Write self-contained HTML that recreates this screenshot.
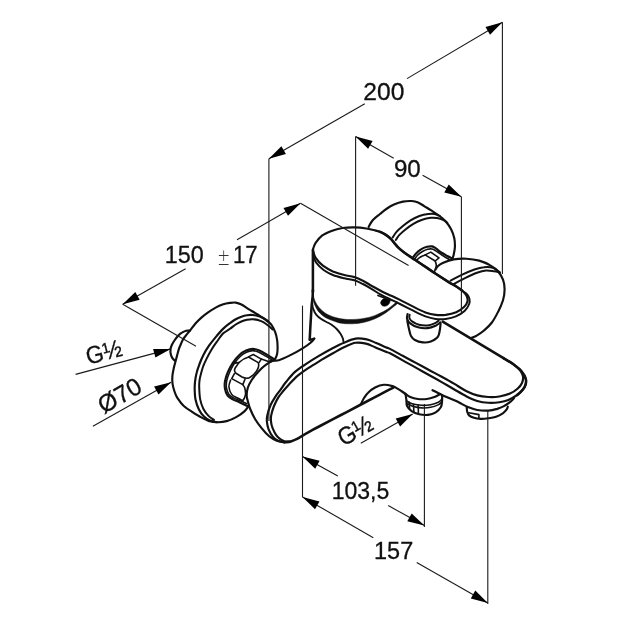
<!DOCTYPE html>
<html lang="en"><head><meta charset="utf-8"><title>Bath mixer dimensions</title>
<style>
html,body{margin:0;padding:0;background:#fff;}
body{width:630px;height:630px;overflow:hidden;}
svg{display:block;}
</style></head><body>
<svg width="630" height="630" viewBox="0 0 630 630" role="img" aria-label="Bath mixer dimensional drawing">
<rect width="630" height="630" fill="#fff"/>
<g fill="none" stroke="#111" stroke-linecap="round" stroke-linejoin="round">
<path d="M268.1 321.2 C267.2 320.6 264.3 318.6 262.4 317.4 C260.5 316.2 258.9 315.4 256.7 314.0 C254.5 312.6 251.6 310.9 249.0 309.3 C246.4 307.7 243.6 305.6 241.4 304.5 C239.2 303.4 237.6 302.9 235.7 302.6 C233.8 302.3 232.1 302.6 230.0 302.9 C227.9 303.2 225.7 303.5 223.3 304.3 C220.9 305.1 218.2 306.2 215.7 307.6 C213.2 309.0 210.5 310.7 208.1 312.4 C205.7 314.1 203.5 315.8 201.4 317.6 C199.3 319.4 197.6 321.2 195.7 323.3 C193.8 325.4 191.6 328.5 190.0 330.5 C188.4 332.5 187.3 333.8 186.2 335.2 C185.1 336.6 184.2 337.6 183.3 339.0 C182.4 340.4 181.7 342.2 181.0 343.8 C180.3 345.4 179.6 346.9 179.0 348.6 C178.4 350.4 177.9 352.4 177.4 354.3 C176.9 356.2 176.5 357.7 175.9 360.0 C175.3 362.3 174.4 365.3 173.8 368.0 C173.2 370.7 172.6 373.3 172.4 376.0 C172.2 378.7 172.2 381.4 172.6 384.0 C172.9 386.6 173.7 389.1 174.5 391.5 C175.3 393.9 175.9 395.7 177.5 398.1 C179.1 400.5 181.4 403.8 183.8 406.0 C186.2 408.2 189.0 409.9 191.7 411.6 C194.3 413.4 196.8 414.9 199.7 416.5 C202.6 418.1 206.3 420.2 209.2 421.1 C212.1 422.1 215.8 422.0 217.1 422.2" stroke-width="2.15"/>
<path d="M268.1 321.7 C267.3 321.1 264.9 319.2 263.3 318.3 C261.7 317.4 260.3 316.7 258.6 316.1 C256.9 315.6 254.8 315.1 252.9 315.0 C251.0 314.9 249.0 314.9 247.1 315.2 C245.2 315.5 243.3 316.0 241.4 316.7 C239.5 317.4 237.6 318.2 235.7 319.3 C233.8 320.4 232.1 321.6 230.0 323.1 C227.9 324.7 225.7 326.3 223.3 328.6 C220.9 330.9 218.1 334.2 215.7 337.1 C213.3 340.0 211.1 342.7 209.0 345.7 C206.9 348.7 204.9 352.1 203.3 355.2 C201.7 358.2 200.6 361.1 199.5 364.0 C198.4 366.9 197.4 369.5 196.7 372.5 C195.9 375.5 195.3 379.1 195.0 382.0 C194.7 384.9 194.6 387.1 194.7 390.0 C194.8 392.9 194.8 396.2 195.5 399.4 C196.2 402.6 197.4 406.3 198.8 409.2 C200.2 412.1 202.1 414.7 204.0 416.6 C205.9 418.5 207.8 419.7 210.0 420.6 C212.2 421.5 214.3 422.1 217.1 422.2 C219.9 422.3 223.5 422.0 226.7 421.1 C229.9 420.2 233.3 418.7 236.2 417.1 C239.1 415.5 242.1 413.4 244.1 411.6 C246.1 409.8 247.6 407.4 248.3 406.5" stroke-width="2.15"/>
<path d="M268.1 321.5 C268.7 322.2 270.7 323.7 271.9 325.5 C273.1 327.3 274.3 329.7 275.2 332.1 C276.1 334.5 276.7 337.2 277.1 339.8 C277.5 342.4 277.6 345.0 277.6 347.4 C277.6 349.8 277.5 352.0 277.1 354.0 C276.7 356.0 275.4 358.5 275.0 359.4" stroke-width="2.15"/>
<path d="M272.6 329.5 C271.9 328.8 269.7 326.7 268.1 325.5 C266.6 324.3 264.9 323.0 263.3 322.1 C261.7 321.2 260.3 320.7 258.6 320.2 C256.9 319.7 254.8 319.4 252.9 319.3 C251.0 319.2 249.0 319.4 247.1 319.8 C245.2 320.2 243.3 320.7 241.4 321.5 C239.5 322.3 237.6 323.3 235.7 324.5 C233.8 325.7 232.1 327.3 230.0 328.8 C227.9 330.3 225.5 331.1 223.3 333.3 C221.1 335.5 218.8 339.0 216.7 341.9 C214.6 344.8 212.7 347.6 211.0 350.5 C209.3 353.4 207.7 356.5 206.4 359.1 C205.1 361.7 204.2 363.8 203.3 366.0 C202.5 368.2 201.9 370.2 201.3 372.5 C200.7 374.8 199.9 377.6 199.6 380.0 C199.2 382.4 199.1 383.8 199.2 387.0 C199.3 390.2 199.5 395.8 200.2 399.4 C200.9 403.0 201.9 405.9 203.3 408.7 C204.7 411.4 206.7 414.0 208.5 415.9 C210.3 417.8 213.1 419.3 214.0 420.0" stroke-width="2.0"/>
<path d="M190.0 330.7 C189.4 330.7 187.5 330.4 186.2 330.7 C184.9 331.0 183.7 331.6 182.4 332.4 C181.1 333.1 179.9 333.9 178.6 335.2 C177.3 336.5 175.9 338.4 174.8 340.0 C173.7 341.6 172.6 343.2 171.9 344.8 C171.2 346.4 170.7 347.9 170.5 349.5 C170.3 351.1 170.5 352.9 170.8 354.3 C171.1 355.7 171.8 357.1 172.4 358.1 C173.0 359.2 174.2 360.2 174.6 360.6" stroke-width="2.15"/>
<path d="M274.4 359.4 C273.2 358.7 269.7 356.5 267.2 355.0 C264.7 353.5 261.8 351.6 259.4 350.6 C257.0 349.6 255.0 348.9 252.8 348.9 C250.6 348.9 248.3 349.6 246.1 350.6 C243.9 351.6 241.6 353.0 239.4 355.0 C237.2 357.0 234.7 359.9 232.8 362.8 C230.9 365.7 229.1 369.1 227.8 372.2 C226.5 375.2 225.5 378.3 225.0 381.1 C224.5 383.9 224.6 386.5 225.0 388.9 C225.4 391.3 226.3 393.9 227.6 395.6 C228.9 397.4 230.8 398.3 232.8 399.4 C234.8 400.5 236.9 401.0 239.4 402.2 C241.9 403.4 246.4 405.6 247.8 406.3" stroke-width="2.15"/>
<path d="M272.4 360.2 C271.4 359.6 268.4 357.7 266.2 356.4 C263.9 355.1 261.1 353.2 258.9 352.2 C256.6 351.2 254.8 350.6 252.7 350.6 C250.6 350.6 248.5 351.3 246.4 352.3 C244.3 353.3 242.2 354.6 240.2 356.5 C238.1 358.4 235.9 361.1 234.1 363.8 C232.3 366.5 230.7 369.7 229.5 372.5 C228.3 375.3 227.2 378.2 226.7 380.8 C226.2 383.4 226.1 385.9 226.5 388.2 C226.9 390.5 227.7 392.9 228.9 394.5 C230.1 396.1 232.0 397.1 233.9 398.1 C235.8 399.1 237.9 399.8 240.1 400.7 C242.2 401.6 245.7 403.2 246.8 403.7" stroke-width="1.6"/>
<path d="M272.8 360.6 C271.9 361.2 269.1 362.6 267.2 363.9 C265.3 365.2 263.5 366.6 261.7 368.3 C259.9 370.1 257.8 372.4 256.1 374.4 C254.4 376.3 253.1 377.8 251.7 380.0 C250.3 382.2 248.6 385.2 247.8 387.8 C247.0 390.4 246.7 393.5 246.7 395.6 C246.7 397.7 247.0 398.0 247.6 400.2 C248.2 402.4 248.9 405.8 250.2 409.0 C251.5 412.2 253.3 416.0 255.2 419.2 C257.1 422.4 259.3 425.2 261.6 428.1 C263.9 431.0 266.7 434.2 269.2 436.3 C271.7 438.4 274.3 439.8 276.8 440.8 C279.3 441.8 283.1 442.1 284.4 442.3" stroke-width="2.15"/>
<path d="M248.9 356.6 L253.3 354.5 L261.3 359.1 L259.2 362.4" stroke-width="1.6"/>
<path d="M261.3 359.1 L270.6 362.2" stroke-width="1.6"/>
<path d="M238.9 362.6 Q243 358.5 248.6 357 L258.2 362.6 Q259.6 366 257.2 370 Q254 375.5 249.4 377.8 Q246 379 242 377 L236 373.3 Q233.5 371 235.2 368 Z" stroke-width="1.6"/>
<path d="M234.4 373.6 L231.7 378.6 L242.8 384.6 L245.0 379.2" stroke-width="1.6"/>
<path d="M230.6 380.0 C230.3 381.1 228.7 384.3 228.9 386.7 C229.1 389.1 230.3 392.5 231.7 394.4 C233.0 396.2 235.2 396.8 237.0 397.8 C238.8 398.8 241.8 400.1 242.8 400.6" stroke-width="1.6"/>
<path d="M242.8 384.6 C243.1 385.1 244.1 386.1 244.6 387.5 C245.1 388.9 245.6 391.6 245.6 393.3 C245.6 395.0 245.1 396.4 244.6 397.6 C244.1 398.8 243.1 400.1 242.8 400.6" stroke-width="1.6"/>
<path d="M232.8 363.4 L238.9 362.6" stroke-width="1.6"/>
<path d="M270.1 361.0 C271.6 360.9 275.5 361.1 278.8 360.2 C282.1 359.3 285.9 357.4 289.9 355.4 C293.9 353.4 299.2 350.4 302.6 348.3 C306.1 346.2 308.7 344.3 310.6 342.7 C312.6 341.1 313.7 339.3 314.3 338.6" stroke-width="2.15"/>
<path d="M314.3 338.6 L309.8 339.8" stroke-width="2.15"/>
<path d="M312.9 290.0 C312.8 291.2 312.8 294.5 312.6 297.0 C312.4 299.5 312.0 301.5 311.7 305.0 C311.4 308.5 311.1 313.8 310.9 318.0 C310.6 322.2 310.4 326.4 310.2 330.0 C310.0 333.6 309.8 338.2 309.7 339.8" stroke-width="2.55"/>
<path d="M284.4 442.3 C283.3 442.1 280.0 441.7 278.1 440.8 C276.2 439.9 274.6 438.9 273.0 437.0 C271.4 435.1 269.6 431.9 268.6 429.4 C267.6 426.8 267.1 424.0 266.9 421.7 C266.7 419.4 266.7 418.1 267.3 415.4 C267.9 412.6 269.1 408.4 270.5 405.2 C271.9 402.0 273.9 398.9 275.6 396.3 C277.3 393.7 278.9 392.0 280.6 389.6 C282.3 387.2 283.6 384.9 286.0 382.0 C288.4 379.1 291.4 375.1 294.7 372.1 C298.0 369.1 301.8 366.8 305.8 364.1 C309.8 361.5 314.3 358.7 318.5 356.2 C322.7 353.7 327.0 351.2 331.2 349.0 C335.4 346.8 339.8 344.4 343.9 342.7 C348.0 341.0 351.8 339.2 355.6 338.6 C359.4 338.1 363.3 338.7 366.7 339.4 C370.1 340.1 373.0 341.7 376.2 343.0 C379.4 344.3 383.4 346.3 385.7 347.3 C388.0 348.3 387.2 347.5 390.0 348.9 C392.8 350.3 398.5 353.5 402.7 355.8 C406.9 358.1 411.2 360.3 415.4 362.6 C419.6 364.9 423.9 367.2 428.1 369.5 C432.3 371.8 436.6 374.0 440.8 376.3 C445.0 378.6 449.3 380.9 453.5 383.4 C457.7 385.8 462.2 389.0 466.1 391.0 C470.1 393.0 473.5 394.4 477.2 395.4 C480.9 396.4 484.6 396.8 488.3 397.0 C492.0 397.2 495.8 397.1 499.4 396.5 C503.0 395.9 507.0 394.9 510.0 393.6 C513.0 392.3 515.5 390.6 517.5 388.8 C519.5 387.0 521.1 385.1 522.0 383.0 C522.9 380.9 523.3 378.8 523.0 376.5 C522.7 374.2 520.5 370.7 520.0 369.5" stroke-width="2.15"/>
<path d="M290.0 441.6 C289.1 441.5 286.0 441.6 284.4 441.2 C282.8 440.8 282.0 440.3 280.6 439.3 C279.2 438.3 277.5 437.0 276.2 435.1 C274.9 433.2 273.5 430.3 272.6 428.1 C271.7 425.9 271.2 423.8 271.0 421.7 C270.8 419.6 270.7 417.9 271.2 415.4 C271.7 412.9 272.6 409.5 273.8 406.5 C275.0 403.5 276.6 400.2 278.2 397.6 C279.8 395.0 281.4 393.2 283.2 391.0 C285.0 388.8 286.6 387.0 289.0 384.4 C291.4 381.8 294.5 378.4 297.8 375.6 C301.1 372.9 304.7 370.5 308.6 367.9 C312.5 365.3 316.9 362.7 321.0 360.2 C325.1 357.7 329.4 355.2 333.4 353.0 C337.4 350.8 341.3 348.5 345.0 346.8 C348.7 345.1 352.1 343.3 355.6 342.8 C359.1 342.3 362.8 342.9 366.0 343.6 C369.2 344.3 371.8 345.9 375.0 347.2 C378.2 348.5 382.7 350.6 385.2 351.6 C387.7 352.6 387.1 351.8 390.0 353.3 C392.9 354.8 398.5 358.0 402.7 360.4 C406.9 362.8 411.2 365.0 415.4 367.4 C419.6 369.8 423.9 372.1 428.1 374.5 C432.3 376.9 436.6 379.2 440.8 381.6 C445.0 384.0 449.3 386.6 453.5 389.0 C457.7 391.4 462.2 394.2 466.2 396.2 C470.1 398.2 473.5 399.9 477.2 401.0 C480.9 402.1 484.6 402.6 488.3 402.8 C492.0 403.0 496.1 402.7 499.4 402.2 C502.7 401.7 505.3 401.2 508.3 400.0 C511.3 398.8 514.8 396.7 517.2 395.0 C519.6 393.3 521.1 391.7 522.5 390.0 C523.9 388.3 525.1 386.5 525.6 384.6 C526.1 382.7 526.4 380.9 525.7 378.7 C525.1 376.5 523.6 373.9 521.7 371.6 C519.9 369.4 517.6 367.4 514.6 365.2 C511.6 362.9 505.4 359.3 503.5 358.1" stroke-width="2.15"/>
<path d="M442.7 321.7 L503.5 358.1" stroke-width="2.55"/>
<path d="M503.5 358.1 C505.4 359.3 511.6 362.9 514.6 365.2 C517.6 367.4 519.9 369.4 521.7 371.6 C523.6 373.9 525.1 376.5 525.7 378.7 C526.4 380.9 526.1 382.7 525.6 384.6 C525.1 386.5 523.9 388.3 522.5 390.0 C521.1 391.7 518.1 394.2 517.2 395.0" stroke-width="2.55"/>
<path d="M284.4 442.3 C285.5 442.1 288.7 442.0 290.8 441.4 C292.9 440.8 295.2 439.8 297.1 438.9 C299.0 438.0 300.1 437.1 302.2 435.8 C304.3 434.5 307.0 432.9 310.0 431.3 C313.0 429.7 315.0 428.6 320.0 426.0 C325.0 423.4 333.3 419.0 340.0 415.5 C346.7 412.0 354.2 408.1 360.0 405.0 C365.8 401.9 371.0 399.2 375.0 397.1 C379.0 395.0 381.4 393.8 384.0 392.4 C386.6 391.0 389.2 389.6 390.8 388.8 C392.4 388.0 393.1 387.6 393.6 387.3" stroke-width="2.55"/>
<path d="M361.1 403.8 C361.6 402.8 362.8 399.9 364.0 398.0 C365.2 396.1 366.2 394.4 368.1 392.7 C370.0 390.9 372.5 388.8 375.1 387.5 C377.7 386.2 380.9 385.0 383.8 384.8 C386.7 384.6 390.2 385.5 392.5 386.1 C394.8 386.7 396.0 387.8 397.5 388.6 C399.0 389.4 400.0 390.1 401.3 391.0 C402.6 391.9 404.6 393.3 405.2 393.8" stroke-width="2.15"/>
<path d="M432.5 390.2 C434.4 391.2 440.2 394.3 444.0 396.0 C447.8 397.7 452.1 399.3 455.0 400.6 C457.9 401.9 459.7 402.9 461.7 403.9 C463.7 404.9 464.6 405.7 467.2 406.7 C469.8 407.7 473.7 409.4 477.2 410.0 C480.7 410.6 485.0 410.8 488.3 410.6 C491.6 410.4 494.6 409.6 497.2 408.9 C499.8 408.1 501.7 407.3 503.9 406.1 C506.1 404.9 508.9 403.0 510.6 401.7 C512.3 400.4 513.4 398.9 513.9 398.3" stroke-width="2.15"/>
<path d="M405.6 394.5 C405.7 395.4 406.1 398.1 406.4 400.0 C406.6 401.9 406.2 404.1 407.1 406.0 C408.0 407.9 409.6 409.7 411.6 411.1 C413.6 412.5 416.4 413.7 419.2 414.3 C421.9 414.9 425.4 415.2 428.1 414.9 C430.9 414.6 433.6 413.7 435.7 412.4 C437.8 411.1 439.7 409.2 440.8 407.3 C441.9 405.4 441.9 403.0 442.1 401.0 C442.3 399.0 442.1 396.4 442.1 395.5" stroke-width="2.15"/>
<path d="M405.4 393.6 C406.2 394.2 408.2 396.2 410.3 397.1 C412.4 398.0 415.1 398.7 417.9 399.0 C420.6 399.3 424.1 399.3 426.8 399.0 C429.6 398.7 432.2 397.9 434.4 397.1 C436.6 396.3 439.2 394.5 440.2 394.0" stroke-width="2.15"/>
<path d="M406.6 400.9 C407.7 401.4 410.4 403.4 412.9 404.1 C415.4 404.8 418.8 405.2 421.7 405.3 C424.6 405.4 427.8 405.2 430.6 404.7 C433.4 404.2 436.4 403.1 438.3 402.2 C440.2 401.2 441.3 399.5 441.9 399.0" stroke-width="1.6"/>
<path d="M407.0 403.4 C408.1 403.9 411.1 405.9 413.5 406.6 C415.9 407.4 418.8 407.8 421.7 407.9 C424.6 408.0 427.8 407.9 430.6 407.3 C433.4 406.8 436.7 405.5 438.6 404.6 C440.5 403.7 441.3 402.3 441.9 401.8" stroke-width="1.6"/>
<path d="M409.1 402.4 L409.7 409.4" stroke-width="1.6"/>
<path d="M413.5 404.4 L413.9 412.4" stroke-width="1.6"/>
<path d="M418.2 405.2 L418.4 413.9" stroke-width="1.6"/>
<path d="M466.7 407.2 C466.8 407.9 466.8 410.3 467.2 411.7 C467.6 413.1 468.3 414.6 469.4 415.6 C470.5 416.6 472.0 417.2 473.9 417.8 C475.8 418.4 478.2 418.8 480.6 418.9 C483.0 419.0 485.7 418.7 488.3 418.3 C490.9 417.9 493.7 417.5 496.1 416.7 C498.5 415.9 501.0 414.5 502.8 413.3 C504.6 412.1 505.9 410.5 506.7 409.4 C507.5 408.3 507.6 407.1 507.8 406.7" stroke-width="2.15"/>
<path d="M468.9 412.8 L478.9 414.6 L478.9 418.2" stroke-width="1.6"/>
<path d="M312.9 250.0 C313.0 249.7 312.9 249.5 313.3 248.3 C313.8 247.1 314.2 244.9 315.6 242.8 C317.1 240.7 319.4 237.6 322.0 235.6 C324.6 233.6 328.1 232.2 331.5 230.9 C334.9 229.6 338.6 228.6 342.6 228.0 C346.6 227.4 351.3 227.3 355.3 227.4 C359.3 227.5 363.1 228.0 366.4 228.5 C369.7 229.0 372.7 229.8 375.0 230.4 C377.3 231.0 378.3 231.1 380.0 231.8 C381.7 232.5 383.4 233.3 385.1 234.4 C386.8 235.5 388.7 236.8 390.2 238.2 C391.7 239.6 392.7 241.1 394.0 242.6 C395.3 244.1 396.3 245.6 397.8 247.1 C399.3 248.6 401.0 250.0 402.9 251.5 C404.8 253.0 406.9 254.4 409.2 256.0 C411.5 257.6 414.3 259.3 416.8 261.0 C419.3 262.7 421.2 264.0 424.4 266.1 C427.6 268.2 431.8 271.2 435.8 273.8 C439.8 276.4 445.0 279.7 448.3 281.8 C451.6 283.9 453.6 284.7 455.9 286.2 C458.2 287.7 460.4 289.1 462.2 290.6 C463.9 292.1 465.5 293.6 466.4 295.4 C467.3 297.2 467.9 299.3 467.5 301.2 C467.1 303.1 465.9 305.2 464.0 307.0 C462.1 308.8 459.2 310.9 456.2 312.2 C453.1 313.5 449.1 314.4 445.7 314.9 C442.3 315.3 439.0 315.3 435.6 314.9 C432.2 314.5 429.2 313.8 425.4 312.4 C421.6 311.0 416.9 308.5 412.7 306.4 C408.5 304.3 403.6 301.7 400.0 299.9 C396.4 298.1 394.5 297.2 391.4 295.8 C388.3 294.4 384.7 292.9 381.4 291.2 C378.1 289.5 374.5 287.4 371.4 285.7 C368.3 283.9 365.8 282.1 362.9 280.7 C360.0 279.3 357.4 278.1 354.3 277.1 C351.2 276.2 347.9 275.9 344.3 275.0 C340.7 274.1 336.5 272.9 332.9 271.4 C329.3 269.8 325.8 267.9 322.9 265.7 C320.0 263.4 317.4 260.5 315.7 257.9 C314.0 255.3 313.4 251.3 312.9 250.0" stroke-width="2.15"/>
<path d="M312.9 255.7 C313.5 256.9 314.6 260.5 316.4 262.9 C318.2 265.3 320.9 268.0 323.6 270.0 C326.4 272.0 329.4 273.6 332.9 275.0 C336.3 276.4 340.7 277.4 344.3 278.3 C347.9 279.2 351.2 279.4 354.3 280.3 C357.4 281.2 360.0 282.6 362.9 284.0 C365.8 285.4 368.3 287.1 371.4 288.9 C374.5 290.7 378.1 293.2 381.4 295.0 C384.7 296.8 388.3 298.3 391.4 299.8 C394.5 301.3 396.4 302.2 400.0 304.0 C403.6 305.8 408.5 308.3 412.7 310.4 C416.9 312.5 421.6 315.0 425.4 316.4 C429.2 317.8 432.2 318.5 435.6 318.9 C439.0 319.3 442.3 319.3 445.7 318.9 C449.1 318.5 452.7 317.8 455.9 316.4 C459.1 315.0 462.6 312.9 464.8 310.8 C467.0 308.7 468.4 306.0 469.2 304.0 C470.0 302.0 469.7 300.1 469.4 298.6 C469.1 297.1 468.2 295.9 467.4 294.8 C466.6 293.7 464.9 292.6 464.4 292.2" stroke-width="2.0"/>
<path d="M380.0 231.8 C380.9 232.2 383.4 233.3 385.1 234.4 C386.8 235.5 388.7 236.8 390.2 238.2 C391.7 239.6 392.7 241.1 394.0 242.6 C395.3 244.1 396.3 245.6 397.8 247.1 C399.3 248.6 401.0 250.0 402.9 251.5 C404.8 253.0 406.9 254.4 409.2 256.0 C411.5 257.6 414.3 259.3 416.8 261.0 C419.3 262.7 421.2 264.0 424.4 266.1 C427.6 268.2 431.8 271.2 435.8 273.8 C439.8 276.4 445.0 279.7 448.3 281.8 C451.6 283.9 453.6 284.7 455.9 286.2 C458.2 287.7 461.1 289.9 462.2 290.6" stroke-width="2.55"/>
<path d="M312.9 250.0 L312.9 291.4" stroke-width="2.55"/>
<path d="M312.9 290.0 C313.0 291.3 313.2 295.2 313.8 297.6 C314.4 300.0 315.4 302.2 316.7 304.3 C318.0 306.4 319.5 308.2 321.4 310.0 C323.3 311.8 325.4 313.4 328.1 314.8 C330.8 316.2 334.8 317.4 337.6 318.1 C340.4 318.9 342.6 319.1 345.0 319.3 C347.4 319.5 349.1 319.6 352.2 319.5 C355.2 319.4 359.6 319.1 363.3 318.5 C367.0 317.9 370.7 317.1 374.4 315.7 C378.1 314.3 382.5 312.1 385.6 310.3 C388.8 308.5 391.4 306.1 393.3 304.7 C395.2 303.2 396.5 302.1 397.1 301.6 L398.0 303.2 C397.2 303.8 395.4 305.4 393.3 307.0 C391.2 308.6 388.8 310.9 385.6 312.9 C382.5 314.9 378.1 317.4 374.4 319.0 C370.7 320.6 367.0 321.7 363.3 322.5 C359.6 323.3 355.9 323.7 352.2 323.8 C348.5 323.9 343.9 323.6 341.1 323.2 C338.4 322.8 338.2 322.6 335.7 321.7 C333.2 320.8 328.9 319.4 326.2 317.9 C323.5 316.4 321.2 314.5 319.5 312.7 C317.8 310.9 316.7 308.9 315.7 306.9 C314.7 304.9 313.9 303.0 313.3 300.5 C312.8 298.0 312.5 293.4 312.4 292.0 Z" stroke-width="0.5" fill="#111"/>
<path d="M312.0 299.5 C312.0 300.1 312.0 301.5 312.2 303.0 C312.4 304.5 312.4 306.6 313.1 308.6 C313.8 310.6 315.0 313.1 316.4 314.8 C317.8 316.5 319.2 317.7 321.2 319.0 C323.1 320.3 326.3 321.8 328.1 322.8 C329.9 323.8 330.5 324.0 331.9 325.0 C333.3 326.0 335.3 327.5 336.7 329.0 C338.1 330.5 339.5 332.2 340.5 333.8 C341.5 335.4 342.4 337.3 342.9 338.6 C343.4 339.9 343.3 340.9 343.4 341.4" stroke-width="1.85"/>
<path d="M380.8 303 C380.6 299.6 384.4 297.4 388 298 C391 298.6 390.6 302.4 388.4 304.6 C385.8 307.2 380.9 306.8 380.8 303Z" stroke-width="0.6" fill="#000"/>
<path d="M377.9 295.4 L390.0 300.0" stroke-width="1.6"/>
<path d="M407.6 314.0 C407.5 314.8 406.6 317.1 407.0 318.6 C407.4 320.2 408.3 321.9 410.2 323.3 C412.1 324.8 415.2 326.5 418.1 327.3 C421.0 328.1 424.7 328.4 427.6 328.1 C430.5 327.8 433.5 326.6 435.6 325.7 C437.7 324.8 439.5 323.0 440.3 322.5" stroke-width="2.15"/>
<path d="M409.6 314.8 C409.6 315.3 409.0 316.9 409.4 318.0 C409.8 319.1 410.4 320.3 412.0 321.4 C413.6 322.5 416.4 324.1 419.0 324.8 C421.6 325.5 424.8 325.7 427.4 325.5 C430.0 325.3 432.7 324.2 434.6 323.4 C436.5 322.6 437.9 321.1 438.6 320.6" stroke-width="2.0"/>
<path d="M407.3 321.0 C407.6 322.3 408.4 326.5 409.0 329.0 C409.6 331.5 410.0 334.2 411.0 336.0 C412.0 337.8 412.9 338.9 414.9 340.0 C416.9 341.1 420.2 342.1 422.9 342.4 C425.5 342.7 428.6 342.3 430.8 341.6 C433.0 340.9 435.0 339.5 436.3 338.4 C437.6 337.3 438.1 336.8 438.7 335.2 C439.3 333.6 439.7 331.0 440.0 329.0 C440.3 327.0 440.5 324.2 440.6 323.3" stroke-width="2.15"/>
<path d="M368.7 226.8 C369.4 225.7 370.8 222.3 372.7 220.2 C374.6 218.1 377.7 215.9 380.0 214.0 C382.3 212.1 384.0 210.6 386.3 209.0 C388.6 207.4 391.2 205.7 394.0 204.5 C396.8 203.3 399.9 202.2 402.9 201.6 C405.8 201.0 409.2 200.9 411.7 201.0 C414.2 201.1 416.0 201.5 418.1 202.4 C420.2 203.3 422.4 205.0 424.5 206.3 C426.6 207.6 428.3 208.6 430.8 210.2 C433.3 211.8 437.2 214.1 439.7 216.0 C442.2 217.9 444.1 219.5 446.0 221.7 C447.9 223.9 449.7 226.6 451.1 229.3 C452.5 232.1 453.7 235.2 454.3 238.2 C454.9 241.2 455.0 244.3 454.9 247.1 C454.8 249.8 454.1 252.8 453.7 254.7 C453.3 256.6 452.6 257.9 452.4 258.5" stroke-width="2.15"/>
<path d="M392.7 237.4 C393.3 236.5 394.8 233.7 396.5 231.8 C398.2 229.9 400.6 228.0 402.9 226.1 C405.2 224.2 407.8 222.1 410.5 220.4 C413.2 218.7 416.4 217.1 419.4 216.0 C422.4 214.9 425.8 214.3 428.3 214.0 C430.8 213.7 432.7 213.7 434.6 214.0 C436.5 214.3 438.9 215.7 439.7 216.0" stroke-width="2.0"/>
<path d="M395.8 240.0 C396.4 239.2 397.7 236.7 399.4 234.9 C401.1 233.1 403.5 231.0 405.8 229.2 C408.1 227.3 410.7 225.4 413.4 223.8 C416.1 222.2 419.3 220.7 422.2 219.7 C425.1 218.7 428.4 218.1 430.9 217.8 C433.4 217.5 435.0 217.7 437.1 218.1 C439.2 218.5 441.8 219.4 443.5 220.2 C445.2 221.0 446.7 222.4 447.3 222.8" stroke-width="2.0"/>
<path d="M412.4 258.5 C412.9 257.8 414.2 255.5 415.6 254.0 C417.0 252.5 418.7 250.8 420.6 249.6 C422.5 248.4 425.1 247.3 427.0 246.8 C428.9 246.3 430.6 246.2 432.1 246.4 C433.6 246.7 434.6 247.5 435.9 248.3 C437.2 249.2 437.8 250.2 439.7 251.5 C441.6 252.8 445.2 254.8 447.3 256.0 C449.4 257.2 451.5 258.1 452.4 258.5" stroke-width="2.15"/>
<path d="M414.2 259.8 C414.8 259.1 416.1 256.7 417.5 255.3 C418.9 253.9 420.8 252.5 422.5 251.5 C424.2 250.5 426.0 249.7 427.6 249.3 C429.2 248.9 430.7 248.7 432.1 249.0 C433.5 249.3 434.0 249.7 435.9 250.9 C437.8 252.1 441.3 254.6 443.5 256.0 C445.7 257.4 448.2 258.8 449.2 259.4" stroke-width="1.6"/>
<path d="M425.1 254.9 L430.8 252.1 L439 257.9 L435.2 261 Z" stroke-width="1.6"/>
<path d="M416.2 260.4 C416.9 259.8 419.0 257.9 420.5 257.0 C422.0 256.1 424.3 255.2 425.1 254.9" stroke-width="1.6"/>
<path d="M435.2 261.0 C435.4 261.8 436.4 263.8 436.3 265.5 C436.2 267.2 434.9 270.4 434.6 271.4" stroke-width="1.6"/>
<path d="M435.6 269.4 C436.0 268.8 436.8 267.1 438.0 266.0 C439.2 264.9 440.1 264.1 442.7 263.0 C445.3 261.9 449.8 260.1 453.8 259.4 C457.8 258.7 462.3 258.5 466.5 258.7 C470.7 258.9 475.2 259.5 479.2 260.6 C483.2 261.7 487.1 263.5 490.3 265.4 C493.5 267.2 496.2 269.3 498.3 271.7 C500.4 274.1 501.9 276.8 503.0 279.7 C504.1 282.6 504.6 285.8 504.6 289.2 C504.6 292.6 504.1 296.6 503.0 300.3 C501.9 304.0 500.2 307.7 498.3 311.4 C496.4 315.1 494.3 319.3 491.9 322.5 C489.5 325.7 486.6 328.2 484.0 330.5 C481.4 332.8 478.0 334.8 476.0 336.0 C474.0 337.2 472.8 337.3 472.1 337.6" stroke-width="2.15"/>
<path d="M450.6 280.6 C452.5 279.7 457.7 276.8 461.7 274.9 C465.7 273.0 470.7 270.8 474.4 269.5 C478.1 268.2 480.8 267.4 484.0 267.2 C487.2 266.9 490.9 267.1 493.5 268.0 C496.1 268.9 498.8 271.7 499.8 272.4" stroke-width="2.0"/>
<path d="M454.0 283.8 C455.8 282.9 461.2 279.9 465.0 278.1 C468.8 276.3 473.5 274.1 477.0 272.8 C480.5 271.6 483.2 270.9 486.0 270.6 C488.8 270.4 491.7 271.0 494.0 271.3 C496.3 271.6 498.8 272.2 499.8 272.4" stroke-width="2.0"/>
</g>
<g fill="none" stroke="#1a1a1a" stroke-width="1.1">
<path d="M268.9 158.7 L268.9 421.0"/>
<path d="M502.4 22.3 L502.4 274.0"/>
<path d="M268.9 158.7 L364.8 103.7"/>
<path d="M407.0 78.6 L502.4 22.3"/>
<path d="M355.6 136.5 L355.6 285.8"/>
<path d="M461.4 196.8 L461.4 313.8"/>
<path d="M355.6 136.5 L393.7 158.2"/>
<path d="M422.6 175.3 L461.4 196.8"/>
<path d="M122.7 304.3 L185.6 268.7"/>
<path d="M237.0 239.8 L300.5 203.3"/>
<path d="M122.7 304.3 L196.0 346.3"/>
<path d="M300.5 203.3 L408.6 265.6"/>
<path d="M75.6 374.4 L170.7 348.9"/>
<path d="M92.9 426.2 L171.1 382.2"/>
<path d="M360.8 443.3 L412.7 414.1"/>
<path d="M302.5 305.6 L302.5 497.1"/>
<path d="M302.5 456.5 L337.8 476.0"/>
<path d="M388.2 505.6 L424.4 525.6"/>
<path d="M424.4 404.0 L424.4 527.0"/>
<path d="M302.5 496.9 L373.3 537.8"/>
<path d="M416.7 562.4 L487.8 602.9"/>
<path d="M487.8 411.0 L487.8 604.0"/>
</g>
<g fill="#000" stroke="none">
<path d="M268.9 158.7 L281.4 146.3 L285.9 154.1 Z"/>
<path d="M502.4 22.3 L490.0 34.8 L485.5 27.1 Z"/>
<path d="M355.6 136.5 L372.6 141.0 L368.1 148.8 Z"/>
<path d="M461.4 196.8 L444.3 192.5 L448.7 184.6 Z"/>
<path d="M122.7 304.3 L135.3 292.0 L139.7 299.8 Z"/>
<path d="M300.5 203.3 L288.0 215.7 L283.5 207.9 Z"/>
<path d="M170.7 348.9 L155.4 357.6 L153.1 349.0 Z"/>
<path d="M171.1 382.2 L158.5 394.5 L154.1 386.6 Z"/>
<path d="M412.7 414.1 L400.1 426.4 L395.7 418.5 Z"/>
<path d="M302.5 456.5 L319.6 460.8 L315.2 468.7 Z"/>
<path d="M424.4 525.6 L407.3 521.3 L411.7 513.4 Z"/>
<path d="M302.5 496.9 L319.5 501.5 L315.0 509.3 Z"/>
<path d="M487.8 602.9 L470.8 598.4 L475.3 590.6 Z"/>
</g>
<g opacity="0.999" fill="#111" stroke="#111" stroke-width="0.3" font-family="'Liberation Sans', 'DejaVu Sans', sans-serif" font-size="24.4">
<text x="363.30" y="99.8" textLength="41.07" lengthAdjust="spacingAndGlyphs">200</text>
<text x="393.88" y="176.6" textLength="26.91" lengthAdjust="spacingAndGlyphs">90</text>
<text x="164.74" y="263.0" textLength="39.05" lengthAdjust="spacingAndGlyphs">150</text>
<text x="232.91" y="263.0" textLength="24.76" lengthAdjust="spacingAndGlyphs">17</text>
<text x="331.69" y="499.3" textLength="57.62" lengthAdjust="spacingAndGlyphs">103,5</text>
<text x="374.05" y="558.6" textLength="39.15" lengthAdjust="spacingAndGlyphs">157</text>
<text x="217.2" y="264.7" font-family="'DejaVu Sans Light','DejaVu Sans','Liberation Sans',sans-serif" font-weight="200" font-size="23.2" textLength="12.9" lengthAdjust="spacingAndGlyphs" fill="#333" stroke="none">±</text>
<text transform="translate(88.2,364.7) rotate(-14.5)" textLength="36.5" lengthAdjust="spacingAndGlyphs">G½</text>
<text transform="translate(103.7,414.2) rotate(-30)">Ø70</text>
<text transform="translate(343.4,446.8) rotate(-30)" textLength="36.3" lengthAdjust="spacingAndGlyphs">G½</text>
</g>
</svg>
</body></html>
